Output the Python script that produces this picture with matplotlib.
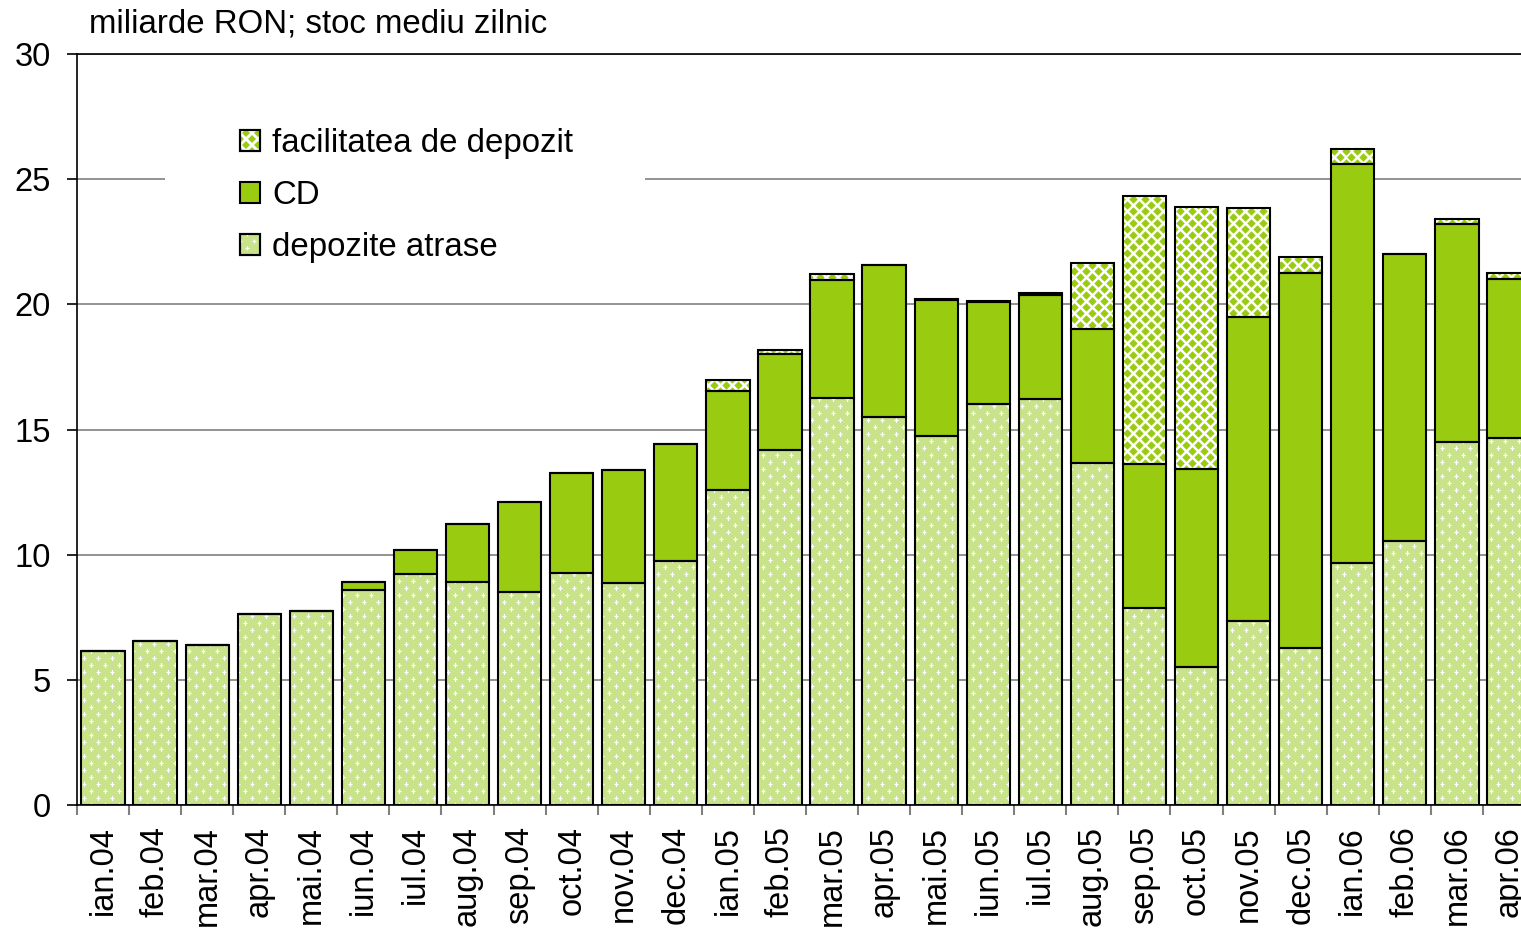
import numpy as np
import matplotlib.pyplot as plt
from matplotlib.patches import Rectangle
from matplotlib.path import Path
from matplotlib.lines import Line2D
from matplotlib.legend_handler import HandlerBase

# Arial-like font for the whole chart
plt.rcParams['font.family'] = ['Liberation Sans', 'DejaVu Sans']

# Months on the x axis
luni = ['ian.04', 'feb.04', 'mar.04', 'apr.04', 'mai.04', 'iun.04', 'iul.04', 'aug.04',
        'sep.04', 'oct.04', 'nov.04', 'dec.04', 'ian.05', 'feb.05', 'mar.05', 'apr.05',
        'mai.05', 'iun.05', 'iul.05', 'aug.05', 'sep.05', 'oct.05', 'nov.05', 'dec.05',
        'ian.06', 'feb.06', 'mar.06', 'apr.06']

# Values (miliarde RON)
depozite_atrase = [6.15, 6.56, 6.39, 7.62, 7.74, 8.60, 9.22, 8.91, 8.50, 9.28, 8.86, 9.74,
                   12.58, 14.20, 16.25, 15.50, 14.73, 16.03, 16.23, 13.68, 7.85, 5.50, 7.37, 6.26,
                   9.67, 10.55, 14.49, 14.68]
cd = [0, 0, 0, 0, 0, 0.31, 0.98, 2.32, 3.60, 3.98, 4.52, 4.70,
      3.97, 3.80, 4.72, 6.07, 5.44, 4.05, 4.14, 5.34, 5.77, 7.94, 12.13, 14.98,
      15.94, 11.46, 8.71, 6.33]
facilitatea_depozit = [0, 0, 0, 0, 0, 0, 0, 0, 0, 0, 0, 0,
                       0.42, 0.19, 0.24, 0, 0.05, 0.05, 0.08, 2.65, 10.71, 10.46, 4.33, 0.66,
                       0.59, 0, 0.22, 0.23]

verde = '#99cc11'
verde_deschis = '#c8e38a'

W, H = 1521, 934
fig = plt.figure(figsize=(W / 100, H / 100), dpi=100)
# axis runs a bit past the right edge of the picture, like the original
ax_px = [77, 54, 1535, 805]  # left, top, right, bottom in pixels
ax = fig.add_axes([ax_px[0] / W, 1 - ax_px[3] / H, (ax_px[2] - ax_px[0]) / W, (ax_px[3] - ax_px[1]) / H])

x = np.arange(len(luni))
latime = 0.83
ax.set_xlim(-0.5, len(luni) - 0.5)
ax.set_ylim(0, 30)

# pixels per data unit, used to size the fill patterns
px_x = (ax_px[2] - ax_px[0]) / len(luni)
px_y = (ax_px[3] - ax_px[1]) / 30


# staggered grid of pattern marks restricted to the bars of one layer
def pattern_points(values, bottom, step_px, row_px):
  dx, dy = step_px / px_x, row_px / px_y
  cols = np.arange(-0.5, len(luni), dx)
  rows = np.arange(0, 30.01, dy)
  X, Y = np.meshgrid(cols, rows)
  X = X + (np.arange(len(rows)) % 2)[:, None] * dx / 2
  mask = np.zeros(X.shape, dtype=bool)
  for i, (v, b) in enumerate(zip(values, bottom)):
    if v > 0:
      mask |= (np.abs(X - i) <= latime / 2 + dx) & (Y >= b - dy) & (Y <= b + v + dy)
  return X[mask], Y[mask]


# one stacked layer: flat fill, optional marks clipped to the bars, black outline
def strat(values, bottom, face, marker=None, mcolor=None, msize=0, step_px=0, row_px=0, mlw=0):
  bars = ax.bar(x, values, latime, bottom=bottom, color=face, linewidth=0, zorder=2)
  if marker is not None:
    px, py = pattern_points(values, bottom, step_px, row_px)
    if marker == '+':
      sc = ax.scatter(px, py, s=msize ** 2, marker=marker, color=mcolor, linewidths=mlw, zorder=2.5)
    else:
      sc = ax.scatter(px, py, s=msize ** 2, marker=marker, color=mcolor, linewidths=0, zorder=2.5)
    paths = [p.get_path().transformed(p.get_patch_transform()) for p, v in zip(bars, values) if v > 0]
    sc.set_clip_path(Path.make_compound_path(*paths), ax.transData)
  ax.bar(x, values, latime, bottom=bottom, fill=False, edgecolor='black',
         linewidth=1.5, zorder=3)


dep = np.array(depozite_atrase)
cdv = np.array(cd)
strat(dep, np.zeros(len(luni)), verde_deschis, '+', 'white', 3.2, 14, 7, 0.9)
strat(cdv, dep, verde)
strat(np.array(facilitatea_depozit), dep + cdv, 'white', 'D', verde, 4.3, 11.8, 6)

ax.set_yticks(range(0, 31, 5))
ax.yaxis.grid(True, color='#808080', linewidth=1.2)
ax.set_axisbelow(True)

ax.set_xticks(x)
ax.set_xticklabels(luni, rotation=90, fontsize=23.5)
ax.set_xticks(np.arange(len(luni) + 1) - 0.5, minor=True)
ax.tick_params(axis='x', which='major', length=0, pad=15)
ax.tick_params(axis='x', which='minor', length=7, width=1.5, color='#808080')
ax.tick_params(axis='y', labelsize=23.5, length=7, width=1.2, pad=12)

for s in ['left', 'bottom', 'top']:
  ax.spines[s].set_color('black')
  ax.spines[s].set_linewidth(1.2)
ax.spines['right'].set_visible(False)

fig.text(89 / W, 1 - 24 / H, 'miliarde RON; stoc mediu zilnic', fontsize=23.8, va='center')

# white box behind the legend hides the 25 grid line
ax.add_patch(Rectangle((165 / W, 1 - 275 / H), (645 - 165) / W, (275 - 112) / H,
                       transform=fig.transFigure, facecolor='white', edgecolor='none', zorder=1))


# legend keys: small square with the same fill pattern as the bars
class Cheie:
  def __init__(self, face, marker=None, mcolor=None, msize=0, step=0, row=0, mlw=0):
    self.face, self.marker, self.mcolor, self.msize = face, marker, mcolor, msize
    self.step, self.row, self.mlw = step, row, mlw


class HandlerCheie(HandlerBase):
  def create_artists(self, legend, h, xdescent, ydescent, width, height, fontsize, trans):
    rect = Rectangle((-xdescent, -ydescent), width, height, facecolor=h.face,
                     edgecolor='black', linewidth=1.5, transform=trans)
    artists = [rect]
    if h.marker is not None:
      xs, ys = [], []
      k = 0
      for yy in np.arange(-ydescent, -ydescent + height + 0.1, h.row):
        off = (k % 2) * h.step / 2
        for xx in np.arange(-xdescent - h.step + off, -xdescent + width + h.step, h.step):
          xs.append(xx)
          ys.append(yy)
        k += 1
      ln = Line2D(xs, ys, linestyle='none', marker=h.marker, markersize=h.msize,
                  markerfacecolor=h.mcolor, markeredgecolor=h.mcolor,
                  markeredgewidth=h.mlw, transform=trans)
      ln.set_clip_path(rect)
      artists = [rect, ln, Rectangle((-xdescent, -ydescent), width, height, fill=False,
                                     edgecolor='black', linewidth=1.5, transform=trans)]
    return artists


k_fac = Cheie('white', 'D', verde, 4.3, 11.8 * 0.72, 6 * 0.72)
k_cd = Cheie(verde)
k_dep = Cheie(verde_deschis, '+', 'white', 3.2, 14 * 0.72, 7 * 0.72, 0.9)

leg = ax.legend([k_fac, k_cd, k_dep], ['facilitatea de depozit', 'CD', 'depozite atrase'],
                handler_map={Cheie: HandlerCheie()},
                loc='upper left', bbox_to_anchor=(240 / W, 1 - 128 / H), bbox_transform=fig.transFigure,
                frameon=False, fontsize=23.8, borderpad=0, borderaxespad=0,
                handlelength=0.62, handleheight=0.62, handletextpad=0.36, labelspacing=0.64)
leg.set_zorder(5)

fig.savefig('out.png', dpi=100)
